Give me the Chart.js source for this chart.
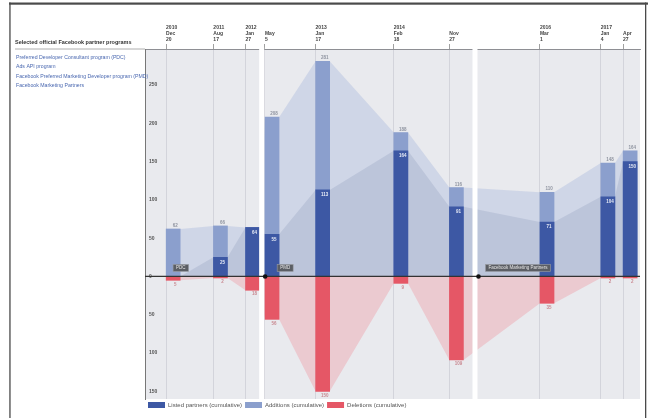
<!DOCTYPE html>
<html>
<head>
<meta charset="utf-8">
<script src="https://cdn.jsdelivr.net/npm/chart.js@4/dist/chart.umd.min.js"></script>
<style>
  html, body { margin: 0; padding: 0; background: #fff; }
  #wrap { width: 648px; height: 418px; position: relative; }
</style>
</head>
<body>
<div id="wrap"><canvas id="chart"></canvas></div>
<script>
// Dates of the snapshots (also the top axis ticks)
const snapshotDates = ['2010-12-20', '2011-08-17', '2012-01-27', '2012-05-05', '2013-01-17',
                       '2014-02-18', '2014-11-27', '2016-03-01', '2017-01-04', '2017-04-27'];
const tickYears  = ['2010', '2011', '2012', '', '2013', '2014', '', '2016', '2017', ''];
const tickMonths = ['Dec', 'Aug', 'Jan', 'May', 'Jan', 'Feb', 'Nov', 'Mar', 'Jan', 'Apr'];
const tickDays   = ['20', '17', '27', '5', '17', '18', '27', '1', '4', '27'];

// Series values
const listedPartners = [0, 25, 64, 55, 113, 164, 91, 71, 104, 150];
const additions      = [62, 66, 64, 208, 281, 188, 116, 110, 148, 164];
const deletions      = [-5, -2, -18, -56, -150, -9, -109, -35, -2, -2];

// Programs (panels)
const programNames  = ['PDC', 'PMD', 'Facebook Marketing Partners'];
const programStarts = ['2010-12-20', '2012-05-06', '2015-04-24'];
const programList = [
    'Preferred Developer Consultant program (PDC)',
    'Ads API program',
    'Facebook Preferred Marketing Developer program (PMD)',
    'Facebook Marketing Partners'
];
const sideTitle = 'Selected official Facebook partner programs';

const legendNames = ['Listed partners (cumulative)', 'Additions (cumulative)', 'Deletions (cumulative)'];

const axisStart = '2010-09-04';
const axisEnd = '2017-07-22';

const BAR_DAYS = 72;   // bar width in days

const COLORS = {
    panel: '#e9eaee',
    dark: '#3d58a4',
    light: '#8b9fcd',
    red: '#e55766',
    lightArea: 'rgba(150,170,215,0.30)',
    darkArea: 'rgba(105,120,160,0.18)',
    redArea: 'rgba(240,150,160,0.38)',
    listText: '#4a68b0'
};

Chart.defaults.font.family = '"Liberation Sans", Arial, sans-serif';

function toDay(s) {
    return Date.parse(s) / 86400000;
}

function barPoints(values) {
    return values.map(function(v, i) { return {x: toDay(snapshotDates[i]) + BAR_DAYS / 2, y: v}; });
}

function areaPoints(values) {
    let pts = [];
    values.forEach(function(v, i) {
        let d = toDay(snapshotDates[i]);
        pts.push({x: d, y: v});
        pts.push({x: d + BAR_DAYS, y: v});
    });
    return pts;
}

function areaDataset(values, color, order) {
    return {
        type: 'line',
        label: '',
        data: areaPoints(values),
        fill: 'origin',
        backgroundColor: color,
        borderWidth: 0,
        pointRadius: 0,
        tension: 0,
        order: order
    };
}

// Panels, labels, frame and the left column text
const decor = {
    id: 'decor',
    beforeDraw(chart) {
        const {ctx, chartArea} = chart;
        ctx.save();
        ctx.fillStyle = COLORS.panel;
        ctx.fillRect(chartArea.left, chartArea.top, chartArea.right - chartArea.left, chartArea.bottom - chartArea.top);
        ctx.restore();
    },
    afterDatasetsDraw(chart) {
        const {ctx, chartArea, scales} = chart;
        const x = scales.x, y = scales.y;
        ctx.save();

        // white gaps between program panels
        ctx.fillStyle = '#fff';
        for (let i = 1; i < programStarts.length; i++) {
            let px = x.getPixelForValue(toDay(programStarts[i]));
            ctx.fillRect(px - 6, chartArea.top - 1.5, 5, chartArea.bottom - chartArea.top + 1.5);
        }

        // zero line
        let y0 = y.getPixelForValue(0);
        ctx.strokeStyle = '#333';
        ctx.lineWidth = 1.3;
        ctx.beginPath();
        ctx.moveTo(chartArea.left, y0);
        ctx.lineTo(chartArea.right, y0);
        ctx.stroke();

        // program start markers
        ctx.font = '4.5px "Liberation Sans", Arial, sans-serif';
        ctx.textBaseline = 'middle';
        ctx.textAlign = 'left';
        programNames.forEach(function(name, i) {
            let px = x.getPixelForValue(toDay(programStarts[i]));
            if (i > 0) {
                ctx.fillStyle = '#111';
                ctx.beginPath();
                ctx.arc(px, y0, 2.3, 0, Math.PI * 2);
                ctx.fill();
            }
            let w = ctx.measureText(name).width + 6;
            let bx = px + (i == 1 ? 12 : 7);
            ctx.fillStyle = '#5b5e64';
            ctx.fillRect(bx, y0 - 12, w, 7);
            ctx.strokeStyle = '#9a9da3';
            ctx.lineWidth = 0.6;
            ctx.strokeRect(bx, y0 - 12, w, 7);
            ctx.fillStyle = '#e6e6e6';
            ctx.fillText(name, bx + 3, y0 - 8.5);
        });

        // value labels
        ctx.font = 'bold 4.5px "Liberation Sans", Arial, sans-serif';
        ctx.textAlign = 'center';
        let darkEls = chart.getDatasetMeta(0).data;
        let lightEls = chart.getDatasetMeta(1).data;
        let redEls = chart.getDatasetMeta(2).data;
        snapshotDates.forEach(function(d, i) {
            if (listedPartners[i] > 0) {
                ctx.fillStyle = '#e8ecf6';
                ctx.fillText(String(listedPartners[i]), darkEls[i].x + 2, darkEls[i].y + 5);
            }
            if (additions[i] > listedPartners[i]) {
                ctx.fillStyle = '#8f94a0';
                ctx.fillText(String(additions[i]), lightEls[i].x + 2, lightEls[i].y - 3);
            }
            ctx.fillStyle = '#c98a92';
            ctx.fillText(String(Math.abs(deletions[i])), redEls[i].x + 2, redEls[i].y + 4);
        });
        ctx.restore();
    },
    afterDraw(chart) {
        const {ctx, chartArea} = chart;
        ctx.save();

        // left column
        ctx.textAlign = 'left';
        ctx.textBaseline = 'alphabetic';
        ctx.font = 'bold 5.5px "Liberation Sans", Arial, sans-serif';
        ctx.fillStyle = '#333';
        ctx.fillText(sideTitle, 15, 44);
        ctx.strokeStyle = '#999';
        ctx.lineWidth = 0.8;
        ctx.beginPath();
        ctx.moveTo(15, chartArea.top);
        ctx.lineTo(chartArea.left, chartArea.top);
        ctx.stroke();
        ctx.font = '5.2px "Liberation Sans", Arial, sans-serif';
        ctx.fillStyle = COLORS.listText;
        programList.forEach(function(t, i) {
            ctx.fillText(t, 16, 59 + i * 9.3);
        });

        // frame
        ctx.fillStyle = '#4a4a4a';
        ctx.fillRect(9, 2.5, 639, 2.2);
        ctx.fillRect(9.3, 2.5, 1.3, 416);
        ctx.fillRect(645, 2.5, 1.3, 416);
        ctx.restore();
    }
};

const ctx = document.getElementById('chart');

new Chart(ctx, {
    type: 'bar',
    data: {
        datasets: [
            {label: legendNames[0], data: barPoints(listedPartners), backgroundColor: COLORS.dark,
             grouped: false, barThickness: 14, order: 0},
            {label: legendNames[1], data: barPoints(additions), backgroundColor: COLORS.light,
             grouped: false, barThickness: 14, order: 1},
            {label: legendNames[2], data: barPoints(deletions), backgroundColor: COLORS.red,
             grouped: false, barThickness: 14, order: 2},
            areaDataset(additions, COLORS.lightArea, 7),
            areaDataset(listedPartners, COLORS.darkArea, 6),
            areaDataset(deletions, COLORS.redArea, 5)
        ]
    },
    options: {
        responsive: true,
        maintainAspectRatio: false,
        animation: false,
        layout: {padding: {left: 145, right: 8, top: 8, bottom: 0}},
        scales: {
            x: {
                type: 'linear',
                position: 'top',
                offset: false,
                min: toDay(axisStart),
                max: toDay(axisEnd),
                afterBuildTicks: function(scale) {
                    scale.ticks = snapshotDates.map(function(d) { return {value: toDay(d)}; });
                },
                afterFit: function(scale) { scale.height = 41; },
                ticks: {
                    autoSkip: false,
                    maxRotation: 0,
                    align: 'start',
                    padding: 1,
                    color: '#444',
                    font: {size: 5, weight: 'bold', lineHeight: 1.25},
                    callback: function(value, index) {
                        return [tickYears[index], tickMonths[index], tickDays[index]];
                    }
                },
                grid: {
                    offset: false,
                    color: '#cdced5',
                    lineWidth: 0.8,
                    borderDash: [1, 2],
                    tickLength: 5,
                    tickColor: '#888',
                    tickBorderDash: []
                },
                border: {color: '#8e8f94', width: 1}
            },
            y: {
                min: -160,
                max: 297,
                afterFit: function(scale) { scale.width = 0; },
                ticks: {
                    stepSize: 50,
                    includeBounds: false,
                    mirror: true,
                    padding: 4,
                    color: '#555',
                    font: {size: 5, weight: 'bold'},
                    callback: function(value) { return String(Math.abs(value)); }
                },
                grid: {display: false},
                border: {color: '#777', width: 1}
            }
        },
        plugins: {
            tooltip: {enabled: false},
            legend: {
                position: 'bottom',
                align: 'start',
                fullSize: false,
                labels: {
                    boxWidth: 17,
                    boxHeight: 6,
                    padding: 3,
                    color: '#555',
                    font: {size: 6},
                    filter: function(item) { return item.text !== ''; }
                }
            }
        }
    },
    plugins: [decor]
});
</script>
</body>
</html>
